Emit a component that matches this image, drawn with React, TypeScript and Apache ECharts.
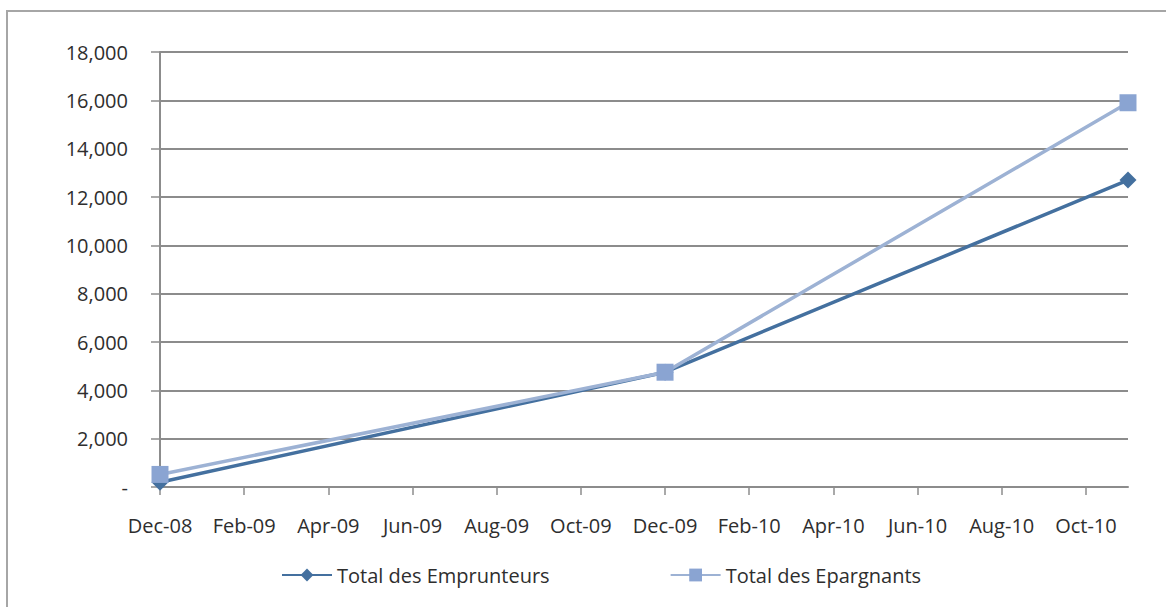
import React, { useEffect, useRef } from "react";
import * as echarts from "echarts";

const months = [
  "Dec-08", "Jan-09", "Feb-09", "Mar-09", "Apr-09", "May-09", "Jun-09", "Jul-09",
  "Aug-09", "Sep-09", "Oct-09", "Nov-09", "Dec-09", "Jan-10", "Feb-10", "Mar-10",
  "Apr-10", "May-10", "Jun-10", "Jul-10", "Aug-10", "Sep-10", "Oct-10", "Nov-10",
];
const pointDates = ["Dec-08", "Dec-09", "Nov-10"];
const emprunteurs = [200, 4750, 12700];
const epargnants = [520, 4750, 15900];
const seriesNames = ["Total des Emprunteurs", "Total des Epargnants"];

const FONT = "'Open Sans', 'Noto Sans', sans-serif";
const TEXT = "#2e2e2e";

export default function App() {
  const ref = useRef<HTMLDivElement>(null);
  useEffect(() => {
    if (!ref.current) return;
    const chart = echarts.init(ref.current, undefined, { renderer: "svg" });
    chart.setOption({
      animation: false,
      backgroundColor: "#ffffff",
      textStyle: { fontFamily: FONT },
      graphic: [
        {
          type: "rect",
          shape: { x: 7, y: 11, width: 1200, height: 700 },
          style: { fill: "none", stroke: "#a6a6a6", lineWidth: 2 },
          silent: true,
        },
      ],
      grid: { left: 160, right: 38, top: 52, bottom: 120, containLabel: false },
      legend: {
        left: 276,
        top: 560,
        itemWidth: 50,
        itemHeight: 16,
        itemGap: 120,
        textStyle: { fontFamily: FONT, fontSize: 20, color: TEXT },
        data: seriesNames,
      },
      xAxis: {
        type: "category",
        data: months,
        boundaryGap: false,
        axisLine: { show: true, lineStyle: { color: "#8c8c8c", width: 2 } },
        axisTick: { show: true, interval: 1, length: 8, lineStyle: { color: "#8c8c8c", width: 1.5 } },
        axisLabel: {
          interval: 1,
          margin: 28,
          fontFamily: FONT,
          fontSize: 20,
          color: TEXT,
        },
        splitLine: { show: false },
      },
      yAxis: {
        type: "value",
        min: 0,
        max: 18000,
        interval: 2000,
        axisLine: { show: true, lineStyle: { color: "#8c8c8c", width: 2 } },
        axisTick: { show: true, length: 9, lineStyle: { color: "#8c8c8c", width: 1.5 } },
        axisLabel: {
          margin: 32,
          fontFamily: FONT,
          fontSize: 20,
          color: TEXT,
          formatter: (v: number) => (v === 0 ? "-" : v.toLocaleString("en-US")),
        },
        splitLine: { show: true, lineStyle: { color: "#8c8c8c", width: 2 } },
      },
      series: [
        {
          name: seriesNames[0],
          type: "line",
          data: pointDates.map((d, i) => [d, emprunteurs[i]]),
          symbol: "diamond",
          symbolSize: 17,
          z: 3,
          lineStyle: { color: "#44709f", width: 3.5 },
          itemStyle: { color: "#44709f" },
        },
        {
          name: seriesNames[1],
          type: "line",
          data: pointDates.map((d, i) => [d, epargnants[i]]),
          symbol: "rect",
          symbolSize: 17,
          z: 4,
          lineStyle: { color: "#9db2d4", width: 3.5 },
          itemStyle: { color: "#8aa4d2" },
        },
      ],
    });
    return () => chart.dispose();
  }, []);
  return (
    <div
      ref={ref}
      style={{ position: "fixed", left: 0, top: 0, width: 1166, height: 607 }}
    />
  );
}
